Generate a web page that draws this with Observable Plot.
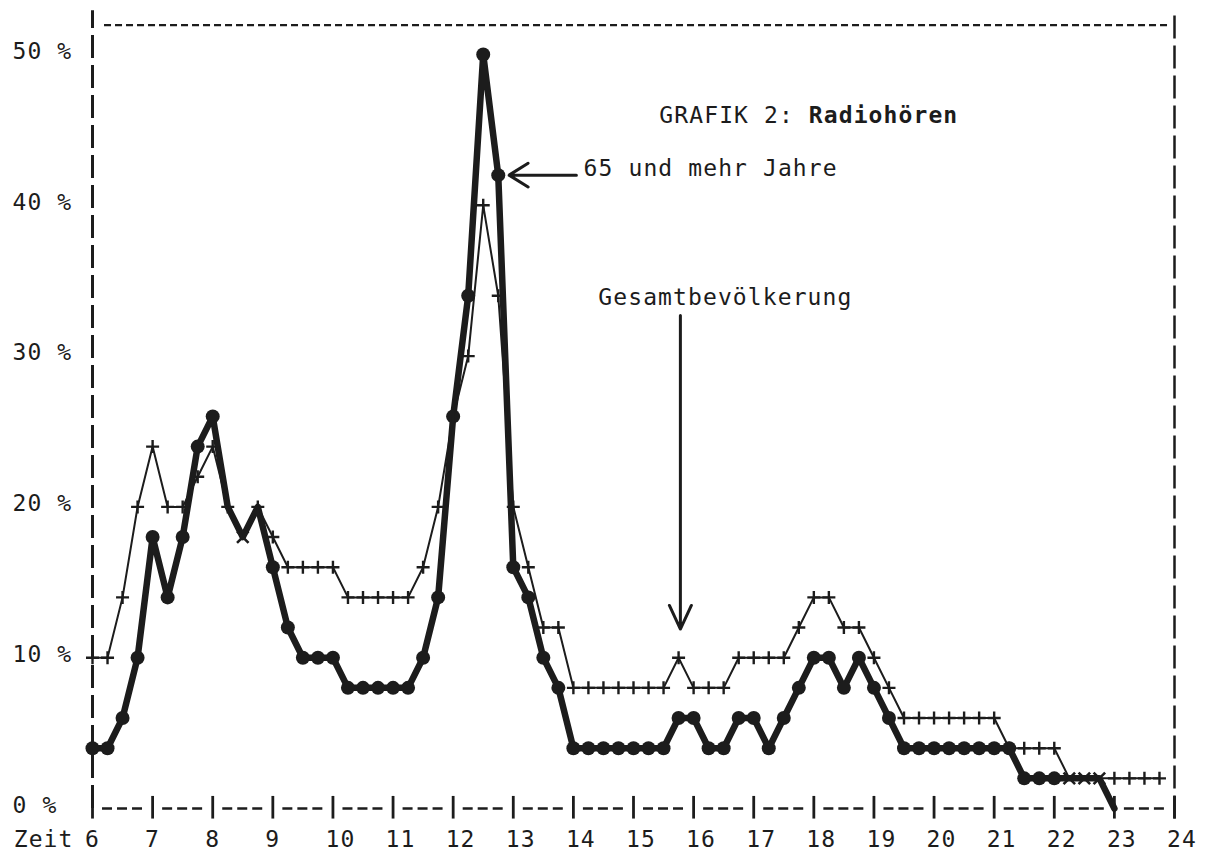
<!DOCTYPE html>
<html><head><meta charset="utf-8">
<script src="https://cdn.jsdelivr.net/npm/d3@7"></script>
<script src="https://cdn.jsdelivr.net/npm/@observablehq/plot@0.6"></script>
<style>
html,body{margin:0;padding:0;background:#fff;}
#chart svg{display:block;}
#chart svg text{letter-spacing:1.1px;}
</style></head><body><div id="chart"></div>
<script>
// Uhrzeit (Viertelstunden)
const times = [6,6.25,6.5,6.75, 7,7.25,7.5,7.75, 8,8.25,8.5,8.75, 9,9.25,9.5,9.75,
  10,10.25,10.5,10.75, 11,11.25,11.5,11.75, 12,12.25,12.5,12.75, 13,13.25,13.5,13.75,
  14,14.25,14.5,14.75, 15,15.25,15.5,15.75, 16,16.25,16.5,16.75, 17,17.25,17.5,17.75,
  18,18.25,18.5,18.75, 19,19.25,19.5,19.75, 20,20.25,20.5,20.75, 21,21.25,21.5,21.75,
  22,22.25,22.5,22.75, 23,23.25,23.5,23.75];
// Gesamtbevölkerung (%)
const total = [10,10,14,20, 24,20,20,22, 24,20,18,20, 18,16,16,16,
  16,14,14,14, 14,14,16,20, 26,30,40,34, 20,16,12,12,
  8,8,8,8, 8,8,8,10, 8,8,8,10, 10,10,10,12,
  14,14,12,12, 10,8,6,6, 6,6,6,6, 6,4,4,4,
  4,2,2,2, 2,2,2,2];
// 65 und mehr Jahre (%)
const senior = [4,4,6,10, 18,14,18,24, 26,20,18,20, 16,12,10,10,
  10,8,8,8, 8,8,10,14, 26,34,50,42, 16,14,10,8,
  4,4,4,4, 4,4,4,6, 6,4,4,6, 6,4,6,8,
  10,10,8,10, 8,6,4,4, 4,4,4,4, 4,4,2,2,
  2,2,2,2, 0,null,null,null];
// Zeitpunkte ohne Punktmarke bzw. mit x-Marke (Überlagerung)
const noDotTimes = [8.25, 8.5, 8.75, 22.25, 22.5, 22.75, 23];
const overlapTimes = [8.5, 22.25, 22.5, 22.75];
// Achsen
const hourTicks = [6,7,8,9,10,11,12,13,14,15,16,17,18,19,20,21,22,23,24];
const hourSpans = [6,7,8,9,10,11,12,13,14,15,16,17,18,19,20,21,22,23];
const yTicks = [0,10,20,30,40,50];
const xTitle = ["Zeit"];
// Beschriftungen
const titleNormal = [{text: "GRAFIK 2:", t: 15.43, v: 45.93}];
const titleBold = [{text: "Radiohören", t: 15.43, v: 45.93}];
const labels = [
  {text: "65 und mehr Jahre", t: 14.17, v: 42.45},
  {text: "Gesamtbevölkerung", t: 14.415, v: 33.9}
];
const arrowSenior = [{x1: 14.05, y1: 42, x2: 12.93, y2: 42}];
const arrowTotal = [{x1: 15.78, y1: 32.7, x2: 15.78, y2: 11.9}];

const rows = times.map((t, i) => ({t, total: total[i], senior: senior[i]}));
const ink = "#1c1c1c";
const fs = 23, adv = 0.602 * fs + 1.1;

const plusSym = {draw(ctx, size) { const r = Math.sqrt(size / Math.PI);
  ctx.moveTo(-r, 0); ctx.lineTo(r, 0); ctx.moveTo(0, -r); ctx.lineTo(0, r); }};
const timesSym = {draw(ctx, size) { const r = Math.sqrt(size / Math.PI) * 0.72;
  ctx.moveTo(-r, -r); ctx.lineTo(r, r); ctx.moveTo(-r, r); ctx.lineTo(r, -r); }};

const chart = Plot.plot({
  width: 1205, height: 851,
  marginLeft: 92, marginRight: 31, marginTop: 54, marginBottom: 43,
  x: {domain: [6, 24]},
  y: {domain: [0, 50]},
  style: {fontFamily: "'DejaVu Sans Mono', monospace", fontSize: fs + "px", color: ink, background: "#fff", overflow: "visible"},
  marks: [
    // gestrichelter Rahmen
    Plot.ruleX([6], {y1: 0, y2: 52.9, stroke: ink, strokeWidth: 3, strokeDasharray: "23,7"}),
    Plot.ruleX([24], {y1: -0.7, y2: 52.9, stroke: ink, strokeWidth: 2.5, strokeDasharray: "23,7"}),
    Plot.ruleY([51.95], {x1: 6.2, x2: 23.92, stroke: ink, strokeWidth: 2.2, strokeDasharray: "7,4"}),
    // Grundlinie |---|---|
    Plot.ruleY(hourSpans, {y: () => 0, x1: d => d + 1/6, x2: d => d + 5/6, stroke: ink, strokeWidth: 2.5, strokeDasharray: "10,5"}),
    Plot.ruleX(hourTicks, {x: d => d, y1: -0.7, y2: 0.8, stroke: ink, strokeWidth: 2.8}),
    Plot.axisX(hourTicks, {tickSize: 0, tickPadding: 22, textAnchor: "start", dx: -7.5, label: null, fill: ink}),
    Plot.axisY(yTicks, {tickSize: 0, tickPadding: 0, textAnchor: "start", dx: -80, dy: -3, label: null, tickFormat: d => `${d} %`, fill: ink}),
    Plot.text(xTitle, {x: () => 6, y: () => 0, text: d => d, dx: -19, dy: 22, textAnchor: "end", lineAnchor: "top", fill: ink}),
    // 65 und mehr Jahre
    Plot.line(rows.filter(d => d.senior != null), {x: "t", y: "senior", stroke: ink, strokeWidth: 6.5, strokeLinejoin: "round", strokeLinecap: "round"}),
    Plot.dot(rows.filter(d => d.senior != null && !noDotTimes.includes(d.t)), {x: "t", y: "senior", r: 7, fill: ink, stroke: "none"}),
    // Gesamtbevölkerung
    Plot.line(rows, {x: "t", y: "total", stroke: ink, strokeWidth: 2}),
    Plot.dot(rows.filter(d => !overlapTimes.includes(d.t)), {x: "t", y: "total", r: 6.5, symbol: plusSym, fill: "none", stroke: ink, strokeWidth: 2.4}),
    Plot.dot(rows.filter(d => overlapTimes.includes(d.t)), {x: "t", y: "total", r: 8, symbol: timesSym, fill: "none", stroke: ink, strokeWidth: 2.6}),
    // Pfeile
    Plot.arrow(arrowSenior, {x1: "x1", y1: "y1", x2: "x2", y2: "y2", stroke: ink, strokeWidth: 3, headLength: 11.5, headAngle: 64}),
    Plot.arrow(arrowTotal, {x1: "x1", y1: "y1", x2: "x2", y2: "y2", stroke: ink, strokeWidth: 3, headLength: 13, headAngle: 50}),
    // Texte
    Plot.text(titleNormal, {x: "t", y: "v", text: "text", textAnchor: "start", lineAnchor: "middle", fill: ink}),
    Plot.text(titleBold, {x: "t", y: "v", text: "text", dx: 10 * adv, textAnchor: "start", lineAnchor: "middle", fontWeight: "bold", fill: ink}),
    Plot.text(labels, {x: "t", y: "v", text: "text", textAnchor: "start", lineAnchor: "middle", fill: ink})
  ]
});
document.getElementById("chart").appendChild(chart);
</script>
</body></html>
